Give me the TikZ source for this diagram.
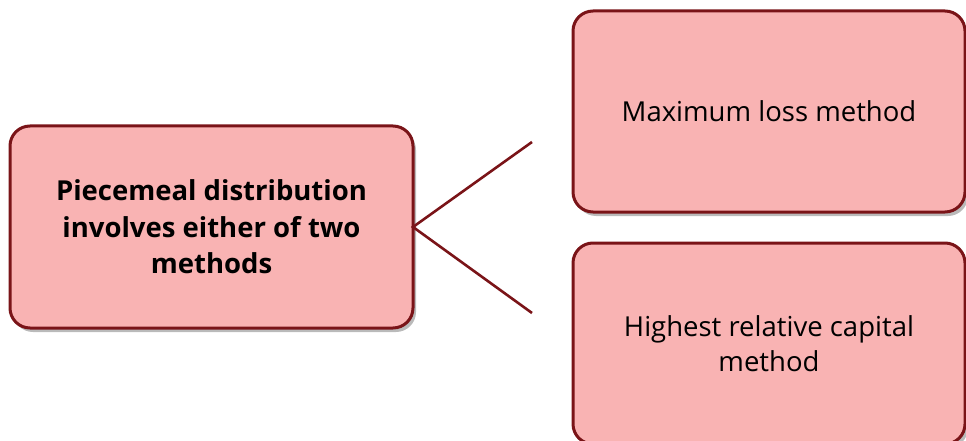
\documentclass[tikz,border=0pt]{standalone}
\usepackage{fontspec}
\setmainfont{Open Sans}
\usetikzlibrary{shadows}
\definecolor{boxfill}{RGB}{249,179,179}
\definecolor{boxline}{RGB}{122,20,24}
\tikzset{
  pbox/.style={draw=boxline, line width=3pt, fill=boxfill, rounded corners=20pt,
    outer sep=0pt, align=center, inner sep=0pt,
    drop shadow={shadow xshift=3pt, shadow yshift=-4pt, opacity=0.45, fill=black!60}},
  conn/.style={draw=boxline, line width=2.6pt}
}
\begin{document}
\begin{tikzpicture}[x=1pt,y=-1pt]
\useasboundingbox (0,0) rectangle (966,441);
\clip (0,0) rectangle (966,441);
\node[pbox, minimum width=403pt, minimum height=202pt, font=\fontsize{27.5}{36.5}\selectfont\bfseries]
  (L) at (211.5,227) {Piecemeal distribution\\involves either of two\\methods};
\node[pbox, minimum width=392pt, minimum height=201pt, font=\fontsize{27.5}{35}\selectfont]
  (T) at (769,111.5) {Maximum loss method};
\node[pbox, minimum width=392pt, minimum height=201pt, font=\fontsize{27.5}{35}\selectfont]
  (B) at (769,343.5) {Highest relative capital\\method};
\coordinate (t1) at (532,142);
\coordinate (t2) at (532,313);
\draw[conn] (t1) -- (L.east) -- (t2);
\end{tikzpicture}
\end{document}
